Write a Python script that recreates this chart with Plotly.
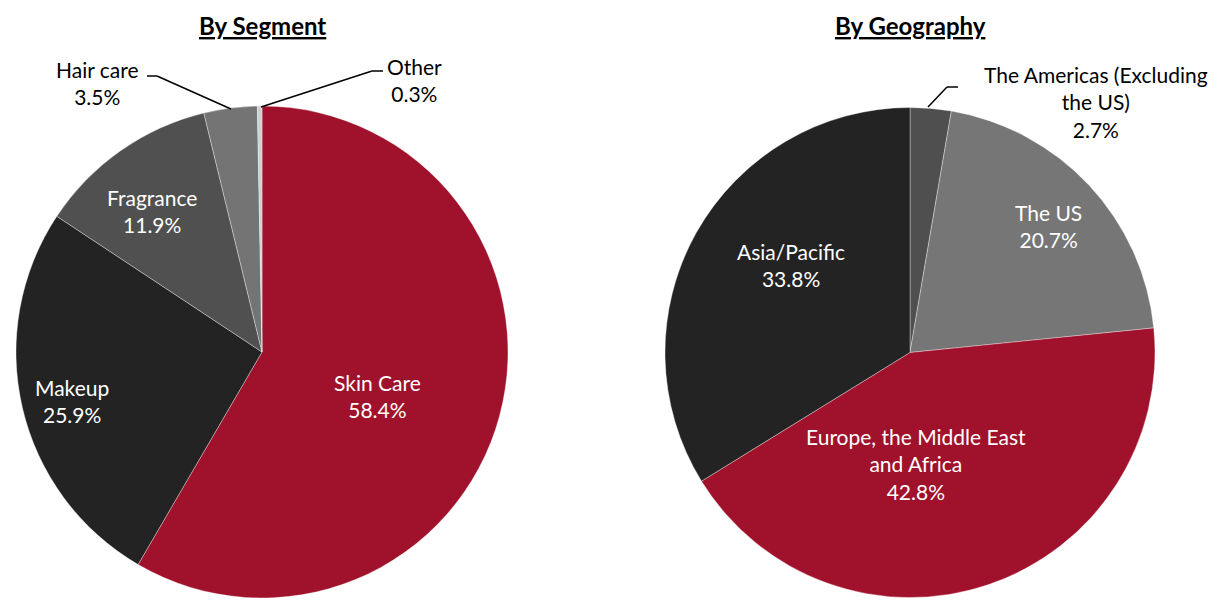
import plotly.graph_objects as go

# Data
seg_labels = ["Skin Care", "Makeup", "Fragrance", "Hair care", "Other"]
seg_values = [58.4, 25.9, 11.9, 3.5, 0.3]
geo_labels = ["The Americas (Excluding<br>the US)", "The US", "Europe, the Middle East<br>and Africa", "Asia/Pacific"]
geo_values = [2.7, 20.7, 42.8, 33.8]

seg_colors = ["#A0112B", "#232323", "#505050", "#747474", "#D0D0D0"]
geo_colors = ["#4F4F4F", "#767676", "#A0112B", "#232323"]

# label centres (pixels) and colours
seg_label_pos = [(377, 396), (72, 401), (152, 211), (97, 83), (414, 80)]
seg_label_col = ["white", "white", "white", "black", "black"]
geo_label_pos = [(1096, 102), (1048, 226), (916, 464), (791, 265)]
geo_label_col = ["black", "white", "white", "white"]

FONT = "Lato"
W, H = 1220, 610

fig = go.Figure()

fig.add_trace(go.Pie(
    labels=seg_labels, values=seg_values, sort=False, direction="clockwise", rotation=0,
    marker=dict(colors=seg_colors, line=dict(color="rgba(255,255,255,0.35)", width=1)),
    textinfo="none",
    domain=dict(x=[16 / W, 508 / W], y=[12 / H, 504 / H]),
    showlegend=False, hoverinfo="label+percent",
))
fig.add_trace(go.Pie(
    labels=geo_labels, values=geo_values, sort=False, direction="clockwise", rotation=0,
    marker=dict(colors=geo_colors, line=dict(color="rgba(255,255,255,0.35)", width=1)),
    textinfo="none",
    domain=dict(x=[665 / W, 1155 / W], y=[12 / H, 503 / H]),
    showlegend=False, hoverinfo="label+percent",
))

def px(x, y):
    return x / W, 1 - y / H

annotations = []
# Titles
for txt, x in [("By Segment", 262), ("By Geography", 910)]:
    ax, ay = px(x, 25)
    annotations.append(dict(text=f"<b><u>{txt}</u></b>", x=ax, y=ay, xref="paper", yref="paper",
                            showarrow=False, font=dict(family=FONT, size=24, color="black"),
                            xanchor="center", yanchor="middle"))

for labels, values, pos, cols in [(seg_labels, seg_values, seg_label_pos, seg_label_col),
                                  (geo_labels, geo_values, geo_label_pos, geo_label_col)]:
    for l, v, (x, y), c in zip(labels, values, pos, cols):
        ax, ay = px(x, y)
        annotations.append(dict(text=f"{l}<br>{v}%", x=ax, y=ay, xref="paper", yref="paper",
                                showarrow=False, font=dict(family=FONT, size=21, color=c),
                                xanchor="center", yanchor="middle"))

# leader lines
leaders = [
    [(147, 76), (157, 76), (231, 109)],
    [(261, 107), (372, 71), (383, 71)],
    [(928, 107), (947, 87), (958, 87)],
]
shapes = []
for pts in leaders:
    for (x0, y0), (x1, y1) in zip(pts[:-1], pts[1:]):
        a0, b0 = px(x0, y0)
        a1, b1 = px(x1, y1)
        shapes.append(dict(type="line", xref="paper", yref="paper", x0=a0, y0=b0, x1=a1, y1=b1,
                           line=dict(color="black", width=1.5)))

fig.update_layout(
    width=W, height=H, margin=dict(l=0, r=0, t=0, b=0),
    paper_bgcolor="white", plot_bgcolor="white",
    annotations=annotations, shapes=shapes,
    font=dict(family=FONT),
)

fig.write_html("out.html")
